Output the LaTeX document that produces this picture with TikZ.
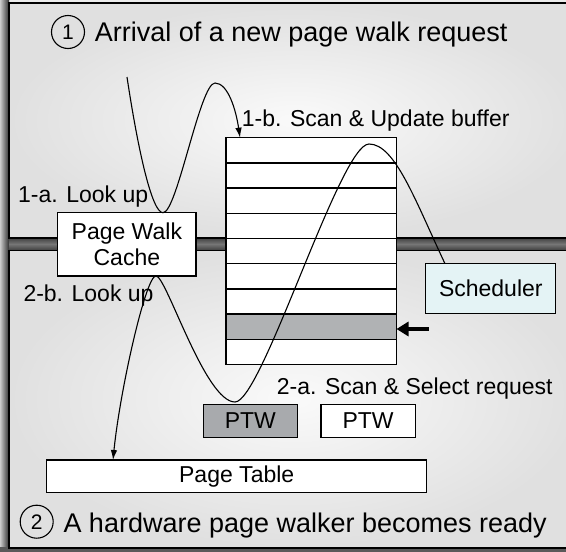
\documentclass[tikz,border=0pt]{standalone}
\usepackage{fontspec}
\setmainfont{Liberation Sans}
\usetikzlibrary{arrows.meta,calc}
\definecolor{shadowdark}{HTML}{303030}
\definecolor{shadowmid}{HTML}{767676}
\definecolor{panelin}{HTML}{FAFAFA}
\definecolor{panelout}{HTML}{E0E0E0}
\definecolor{rowgray}{HTML}{B0B2B4}
\definecolor{ptwgray}{HTML}{A8AAAD}
\definecolor{schedfill}{HTML}{E4F3F5}
\newcommand\lblfont{\fontsize{23}{26}\selectfont}
\newcommand\ttlfont{\fontsize{27}{30}\selectfont}
\newcommand\numfont{\fontsize{21}{24}\selectfont}
\tikzset{
  panel/.style={draw=black, line width=1.6pt, inner color=panelin, outer color=panelout},
  box/.style={draw=black, line width=1.3pt, fill=white, inner sep=0pt, outer sep=0pt, font=\lblfont, align=center},
  rowbox/.style={draw=black, line width=1.3pt, fill=white, inner sep=0pt, outer sep=0pt, minimum width=170.5pt, minimum height=25.2pt},
  lbl/.style={anchor=base west, inner sep=0pt, font=\lblfont},
  ttl/.style={anchor=base west, inner sep=0pt, font=\ttlfont},
  num/.style={circle, draw=black, line width=1.1pt, minimum size=33pt, inner sep=0pt, font=\numfont},
  wire/.style={line width=1.1pt, draw=black},
  tip/.style={-{Latex[length=10pt,width=6.5pt]}},
  bigarrow/.style={line width=3.2pt, draw=black, -{Triangle[length=12pt,width=14pt]}}
}
\begin{document}
\begin{tikzpicture}[x=1pt,y=-1pt]
\useasboundingbox (0,0) rectangle (566,552);
% background and shadows
\fill[white!92!black] (0,0) rectangle (566,552);
\shade[left color=white!80!black, right color=shadowdark] (0,0) rectangle (9,552);
\shade[top color=shadowdark, bottom color=shadowdark, middle color=shadowmid] (9,236) rectangle (566,252);
\fill[shadowdark!80] (0,547) rectangle (566,552);
% panels
\path[panel] (9,3) rectangle (580,237.7);
\path[panel] (9,250.3) rectangle (580,547.7);
% titles
\node[num] (c1) at (68,32) {1};
\node[ttl] (t1) at (94.6,41.7) {Arrival of a new page walk request};
\node[num] (c2) at (36.7,521.7) {2};
\node[ttl] (t2) at (63.3,532.7) {A hardware page walker becomes ready};
% boxes
\node[box, minimum width=138.3pt, minimum height=63.3pt] (pwc) at (126.85,244.35) {Page Walk\\Cache};
\node[box, fill=schedfill, minimum width=130pt, minimum height=50pt] (sched) at (490.8,288.7) {Scheduler};
\node[box, fill=ptwgray, minimum width=94pt, minimum height=33pt] (ptw1) at (250.3,420.8) {PTW};
\node[box, minimum width=94.3pt, minimum height=33pt] (ptw2) at (368.15,420.8) {PTW};
\node[box, minimum width=380pt, minimum height=32.7pt] (pt) at (236.7,476.35) {Page Table};
\foreach \i in {1,...,9} {
  \node[rowbox] (r\i) at (311.25,{137.7+25.2*(\i-0.5)}) {};
}
\node[rowbox, fill=rowgray] (r8) at (311.25,{137.7+25.2*7.5}) {};
% labels
\node[lbl] (l1b) at (241.7,126.5) {1-b. Scan \& Update buffer};
\node[lbl] (l1a) at (18,202.5) {1-a. Look up};
\node[lbl] (l2b) at (23.3,301.5) {2-b. Look up};
\node[lbl] (l2a) at (276.7,394.2) {2-a. Scan \& Select request};
% connectors
\coordinate (w1s) at (127,77);
\draw[wire, tip] (w1s) .. controls (138,150) and (152,213) .. (pwc.north -| 163,0)
  .. controls (177,213) and (200,83) .. (215,83)
  .. controls (228,83) and (236,110) .. (r1.north west -| 240,0);
\draw[wire, tip] (sched.north -| 445,0) .. controls (415,200) and (395,144) .. (369,144)
  .. controls (340,144) and (262,402) .. (235,402)
  .. controls (205,402) and (166,275) .. (pwc.south -| 156,0)
  .. controls (146,275) and (120,390) .. (pt.north -| 113,0);
\coordinate (bas) at (428.5,329);
\draw[bigarrow] (bas) -- (r8.east |- bas);
\end{tikzpicture}
\end{document}
